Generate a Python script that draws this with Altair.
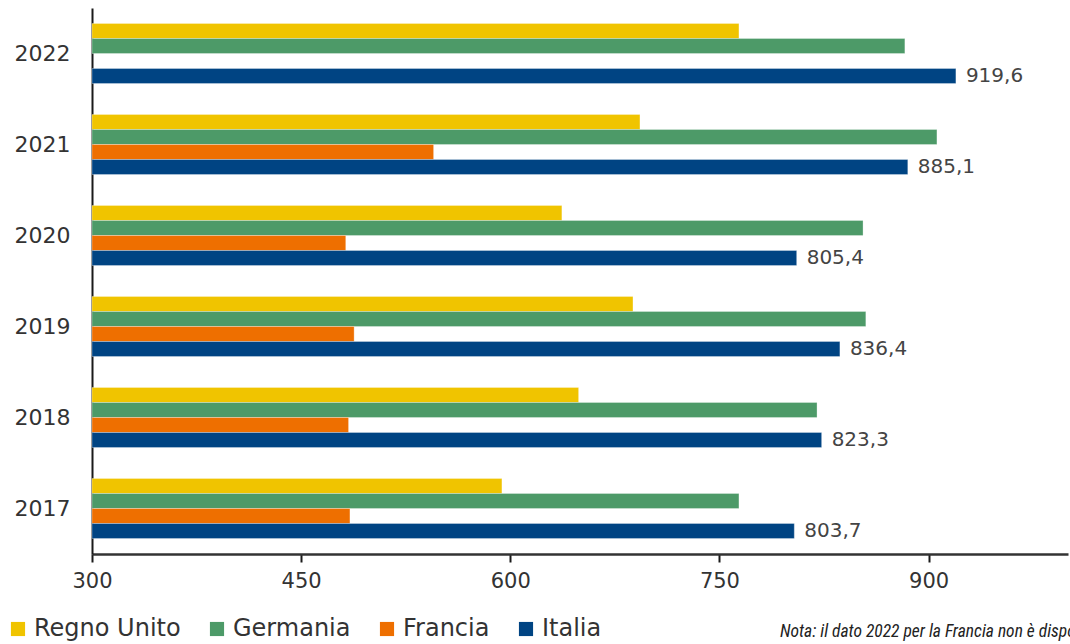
import altair as alt
import pandas as pd

years = ["2022", "2021", "2020", "2019", "2018", "2017"]
series = ["Regno Unito", "Germania", "Francia", "Italia"]
colors = ["#F0C400", "#4D9A68", "#EE6F00", "#004483"]

regno_unito = [764, 693, 637, 688, 649, 594]
germania = [883, 906, 853, 855, 820, 764]
francia = [None, 545, 482, 488, 484, 485]  # 2022 not available
italia = [919.6, 885.1, 805.4, 836.4, 823.3, 803.7]

rows = []
for name, vals in zip(series, [regno_unito, germania, francia, italia]):
    for yr, v in zip(years, vals):
        if v is not None:
            rows.append({"anno": yr, "paese": name, "valore": v})
df = pd.DataFrame(rows)
df["etichetta"] = df["valore"].map(lambda v: f"{v:.1f}".replace(".", ","))

FONT = "DejaVu Sans"

x_scale = alt.Scale(domain=[300, 1000], nice=False, zero=False)
y_enc = alt.Y(
    "anno:N",
    sort=years,
    scale=alt.Scale(paddingInner=0.34, paddingOuter=0.17),
    axis=alt.Axis(
        title=None, ticks=False, labelPadding=22, labelFontSize=22,
        labelColor="#333333", labelFont=FONT, domainColor="#1a1a1a",
        domainWidth=2, grid=False,
    ),
)
yoff = alt.YOffset("paese:N", sort=series, scale=alt.Scale(domain=series, paddingInner=0, paddingOuter=0))

bars = alt.Chart(df).mark_bar(stroke="white", strokeWidth=0.5, strokeOpacity=0.6).encode(
    x=alt.X(
        "valore:Q", scale=x_scale,
        axis=alt.Axis(
            title=None, values=[300, 450, 600, 750, 900], grid=False,
            tickSize=8, tickColor="#1a1a1a", tickWidth=2, domainColor="#333333",
            domainWidth=2.5, labelFontSize=21, labelColor="#333333",
            labelFont=FONT, labelPadding=8, labelFlush=False,
        ),
    ),
    x2=alt.datum(300),
    y=y_enc,
    yOffset=yoff,
    color=alt.Color(
        "paese:N", sort=series,
        scale=alt.Scale(domain=series, range=colors),
        legend=alt.Legend(
            title=None, orient="none", direction="horizontal",
            legendX=-86, legendY=609, symbolType="square", symbolSize=200,
            symbolStrokeWidth=0, labelFontSize=24, labelFont=FONT,
            labelColor="#333333", labelOffset=4, columnPadding=24,
            symbolOpacity=1,
        ),
    ),
)

labels = alt.Chart(df[df["paese"] == "Italia"]).mark_text(
    align="left", baseline="middle", dx=10, fontSize=20, font=FONT, color="#444444"
).encode(
    x=alt.X("valore:Q", scale=x_scale),
    y=alt.Y("anno:N", sort=years),
    yOffset=yoff,
    text="etichetta:N",
)

note = alt.Chart(pd.DataFrame({"t": ["Nota: il dato 2022 per la Francia non è disponibile"]})).mark_text(
    align="left", baseline="alphabetic", fontSize=17.5, fontStyle="italic",
    font="Liberation Sans Narrow, Roboto Condensed, Roboto", color="#222222",
).encode(x=alt.value(688), y=alt.value(629), text="t:N")

chart = alt.layer(bars, labels, note).properties(
    width=976, height=546,
    autosize=alt.AutoSizeParams(type="none"),
    padding={"left": 92, "top": 8, "right": 2, "bottom": 90},
).configure_view(stroke=None)

chart.save("out.html", embed_options={"renderer": "svg", "actions": False})
